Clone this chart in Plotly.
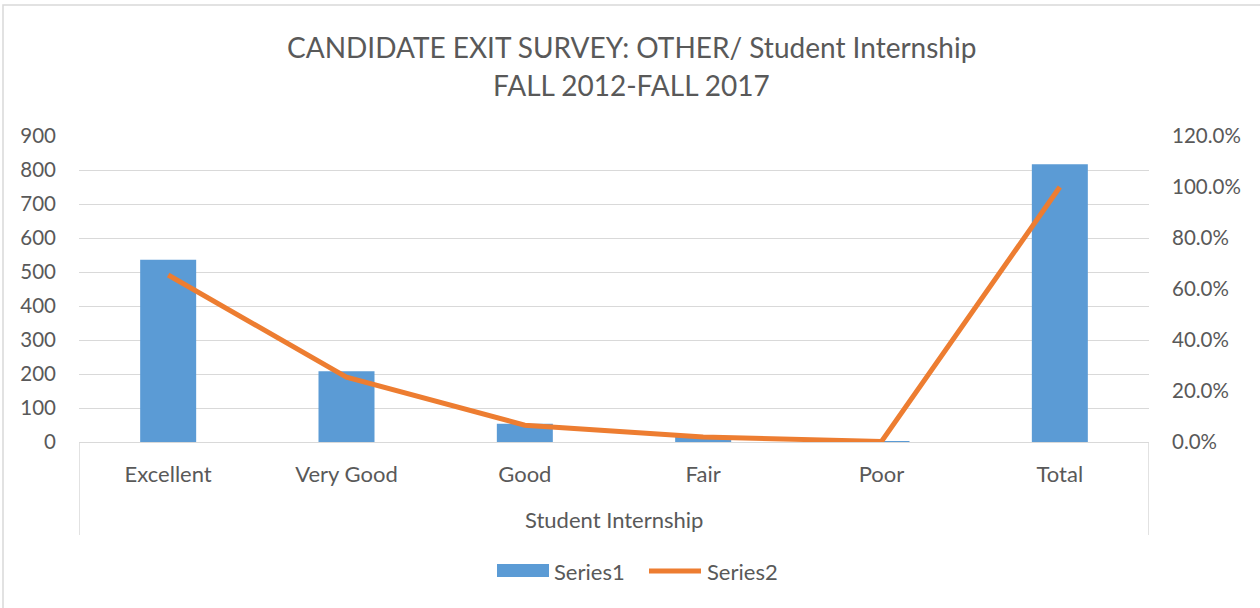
import plotly.graph_objects as go

categories = ["Excellent", "Very Good", "Good", "Fair", "Poor", "Total"]
series1 = [536, 208, 54, 16, 1, 817]
series2 = [0.655, 0.254, 0.066, 0.020, 0.002, 1.0]
series_names = ["Series1", "Series2"]
left_ticks = list(range(0, 901, 100))
right_ticks = [0, 0.2, 0.4, 0.6, 0.8, 1.0, 1.2]

TXT = "#595959"
GRID = "#D9D9D9"
BLUE = "#5B9BD5"
ORANGE = "#ED7D31"
FONT = "Lato"

W, H = 1260, 608
L, R, T, B = 79, 111, 136, 166
PH = H - T - B
PW = W - L - R

fig = go.Figure()
fig.add_trace(go.Bar(x=categories, y=series1, name=series_names[0],
                     marker=dict(color=BLUE, line=dict(width=0)),
                     width=0.314, yaxis="y", showlegend=False))
fig.add_trace(go.Scatter(x=categories, y=series2, name=series_names[1], mode="lines",
                         line=dict(color=ORANGE, width=5), yaxis="y2", showlegend=False))

def py(px):
    return (H - B - px) / PH

def pxx(px):
    return (px - L) / PW

fig.update_layout(
    width=W, height=H,
    margin=dict(l=L, r=R, t=T, b=B, autoexpand=False),
    paper_bgcolor="white", plot_bgcolor="white",
    font=dict(family=FONT, color=TXT, size=20),
    showlegend=False,
    xaxis=dict(showline=True, linecolor=GRID, linewidth=1, showgrid=False, ticks="",
               tickfont=dict(size=22, color=TXT), ticklabelstandoff=13, range=[-0.5, 5.5]),
    yaxis=dict(range=[0, 900], tickvals=left_ticks, showgrid=True, gridcolor=GRID, gridwidth=1,
               zeroline=False, showline=False, ticks="", tickfont=dict(size=20.5, color=TXT),
               ticklabelstandoff=22),
    yaxis2=dict(range=[0, 1.2], tickvals=right_ticks, tickformat=".1%", overlaying="y", side="right",
                showgrid=False, zeroline=False, showline=False, ticks="",
                tickfont=dict(size=20.5, color=TXT), ticklabelstandoff=22),
    annotations=[
        dict(text="CANDIDATE EXIT SURVEY: OTHER/ Student Internship", xref="paper", yref="paper",
             x=pxx(631), y=py(47), xanchor="center", yanchor="middle", showarrow=False,
             font=dict(size=28, color=TXT)),
        dict(text="FALL 2012-FALL 2017", xref="paper", yref="paper",
             x=pxx(631), y=py(85), xanchor="center", yanchor="middle", showarrow=False,
             font=dict(size=28, color=TXT)),
        dict(text="Student Internship", xref="paper", yref="paper",
             x=0.5, y=py(519), xanchor="center", yanchor="middle", showarrow=False,
             font=dict(size=22, color=TXT)),
        dict(text=series_names[0], xref="paper", yref="paper",
             x=pxx(552), y=py(571), xanchor="left", yanchor="middle", showarrow=False,
             font=dict(size=22, color=TXT)),
        dict(text=series_names[1], xref="paper", yref="paper",
             x=pxx(705), y=py(571), xanchor="left", yanchor="middle", showarrow=False,
             font=dict(size=22, color=TXT)),
    ],
    shapes=[
        dict(type="line", xref="x", yref="paper", x0=-0.5, x1=-0.5, y0=0, y1=py(535),
             line=dict(color=GRID, width=1.5)),
        dict(type="line", xref="x", yref="paper", x0=5.5, x1=5.5, y0=0, y1=py(535),
             line=dict(color=GRID, width=1.5)),
        dict(type="rect", xref="paper", yref="paper", x0=pxx(3), x1=pxx(1265), y0=py(5), y1=py(615),
             line=dict(color=GRID, width=1.5), layer="below"),
        dict(type="rect", xref="paper", yref="paper", x0=pxx(497), x1=pxx(549), y0=py(564), y1=py(577),
             fillcolor=BLUE, line=dict(width=0)),
        dict(type="line", xref="paper", yref="paper", x0=pxx(649), x1=pxx(701), y0=py(571), y1=py(571),
             line=dict(color=ORANGE, width=5)),
    ],
)

fig.write_html("out.html", config={"displayModeBar": False},
               post_script="document.body.style.margin='0';document.body.style.padding='0';")
